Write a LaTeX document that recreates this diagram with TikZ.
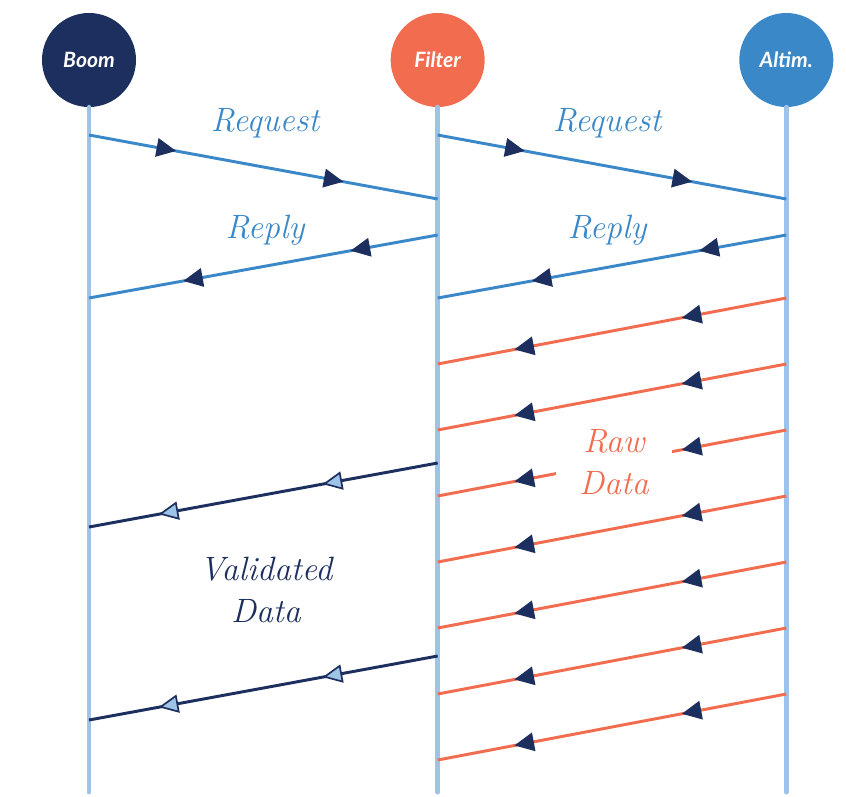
\documentclass[tikz,border=0pt]{standalone}
\usepackage{fontspec}
\setsansfont{Lato}
\usetikzlibrary{positioning,arrows.meta,decorations.markings}

\definecolor{navy}{HTML}{1C2F5E}
\definecolor{coral}{HTML}{F26D4F}
\definecolor{azure}{HTML}{3B88C9}
\definecolor{pale}{HTML}{9DC3E6}

\tikzset{
  navytip/.tip={Triangle[length=14pt,width=13pt,color=navy]},
  opentip/.tip={Triangle[length=14pt,width=13pt,color=navy,fill=pale,line width=1.2pt]}
}

\begin{document}
\begin{tikzpicture}[
  x=0.025cm, y=-0.025cm,
  % STYLES
  anode/.style={circle,draw=none,minimum size=2.35cm,inner sep=0pt,text=white,
    font=\sffamily\bfseries\itshape\fontsize{15}{18}\selectfont},
  lline/.style={pale,line width=3.5pt,line cap=round},
  % OWNs
  twotips/.style n args={3}{postaction={decorate},decoration={markings,
    mark=at position #1 with {\arrow{#3}},
    mark=at position #2 with {\arrow{#3}}}},
  rqline/.style={azure,line width=2.1pt,twotips={0.25}{0.73}{navytip}},
  rawline/.style={coral,line width=2.1pt,twotips={0.3}{0.78}{navytip}},
  valline/.style={navy,line width=2.1pt,twotips={0.33}{0.8}{opentip}},
  comme/.style={font=\itshape\fontsize{24}{30}\selectfont,align=center}]

  \useasboundingbox (0,0) rectangle (846,796);

  \node[anode, fill=navy] at (89,60) (boom) {Boom};
  \node[anode, fill=coral] [right=6.35cm of boom](filter) {Filter};
  \node[anode, fill=azure] [right=6.35cm of filter](altim) {Altim.};

  \coordinate (bottom) at (0,792);
  \draw[lline] (boom.south) -- (boom |- bottom);
  \draw[lline] (filter.south) -- (filter |- bottom);
  \draw[lline] (altim.south) -- (altim |- bottom);

  % request / reply
  \coordinate (rqa1) at (boom |- 0,135);
  \coordinate (rqb1) at (filter |- 0,199);
  \coordinate (rqa2) at (filter |- 0,135);
  \coordinate (rqb2) at (altim |- 0,199);
  \coordinate (rpa1) at (filter |- 0,235);
  \coordinate (rpb1) at (boom |- 0,298);
  \coordinate (rpa2) at (altim |- 0,235);
  \coordinate (rpb2) at (filter |- 0,298);
  \draw[rqline] (rqa1) -- (rqb1);
  \draw[rqline] (rqa2) -- (rqb2);
  \draw[rqline] (rpa1) -- (rpb1);
  \draw[rqline] (rpa2) -- (rpb2);

  % raw data
  \foreach \i in {0,...,6}{
    \pgfmathtruncatemacro\ya{298+66*\i}
    \pgfmathtruncatemacro\yb{\ya+66}
    \coordinate (rwa\i) at (altim |- 0,\ya);
    \coordinate (rwb\i) at (filter |- 0,\yb);
    \draw[rawline] (rwa\i) -- (rwb\i);
  }

  % validated data
  \coordinate (vda1) at (filter |- 0,463);
  \coordinate (vdb1) at (boom |- 0,527);
  \coordinate (vda2) at (filter |- 0,656);
  \coordinate (vdb2) at (boom |- 0,720);
  \draw[valline] (vda1) -- (vdb1);
  \draw[valline] (vda2) -- (vdb2);

  \node[comme, text=azure, anchor=base] at (265,131) (rq1) {Request};
  \node[comme, text=azure, anchor=base] at (607,131) (rq2) {Request};
  \node[comme, text=azure, anchor=base] at (265,238) (rp1) {Reply};
  \node[comme, text=azure, anchor=base] at (607,238) (rp2) {Reply};
  \node[comme, text=coral, fill=white, minimum width=2.9cm, inner ysep=1pt] at (614,462) (raw) {Raw\\Data};
  \node[comme, text=navy] at (266,590) (val) {Validated\\Data};
\end{tikzpicture}
\end{document}
